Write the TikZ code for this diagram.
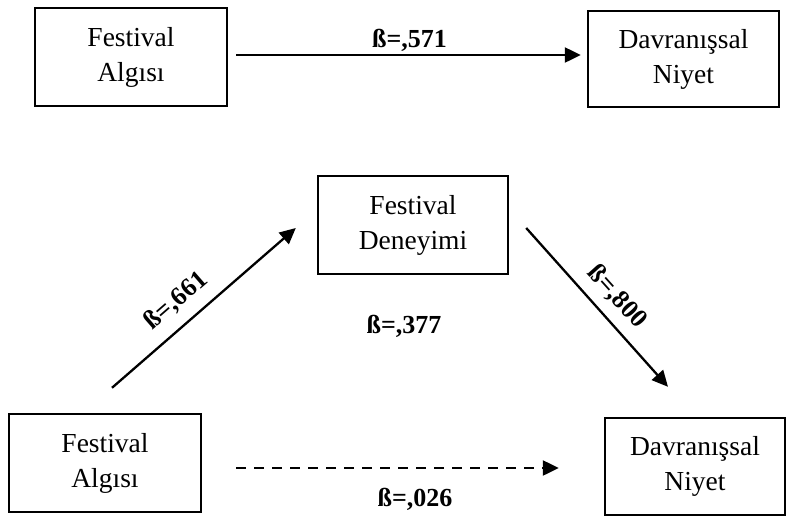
\documentclass[tikz,border=0pt]{standalone}
\usepackage{fontspec}
\setmainfont{Liberation Serif}
\usetikzlibrary{arrows.meta}
\begin{document}
\begin{tikzpicture}[x=1pt,y=-1pt,
  box/.style={draw, line width=2.4pt, align=center, inner sep=0pt,
    font=\fontsize{27.5}{35}\selectfont},
  lbl/.style={font=\fontsize{26}{30}\selectfont\bfseries, inner sep=0pt},
  conn/.style={line width=2.3pt, -{Triangle[length=16pt,width=15pt]}},
  dconn/.style={conn, dash pattern=on 10pt off 8pt},
]
\useasboundingbox[fill=white] (0,0) rectangle (788,517);
% top row
\node[box, minimum width=192pt, minimum height=98pt] (fa1) at (131,57) {Festival\\Algısı};
\node[box, minimum width=191pt, minimum height=96pt] (dn1) at (683.5,59) {Davranışsal\\Niyet};
% bottom model
\node[box, minimum width=190pt, minimum height=98pt] (fd) at (413,225) {Festival\\Deneyimi};
\node[box, minimum width=192pt, minimum height=98pt] (fa2) at (105,463) {Festival\\Algısı};
\node[box, minimum width=180pt, minimum height=97pt] (dn2) at (695,466.5) {Davranışsal\\Niyet};
% connectors
\draw[conn] ([shift={(8pt,2pt)}]fa1.east) -- ([shift={(-6pt,4pt)}]dn1.west);
\draw[conn] ([shift={(7pt,25pt)}]fa2.north) -- ([shift={(-21pt,-3pt)}]fd.west);
\draw[conn] ([shift={(17pt,-3pt)}]fd.east) -- ([shift={(-27pt,30pt)}]dn2.north);
\draw[dconn] ([shift={(34pt,-5pt)}]fa2.east) -- ([shift={(-45pt,-1.5pt)}]dn2.west);
% labels
\node[lbl, anchor=base] (l571) at (409.5,47) {ß=,571};
\node[lbl, anchor=base] (l377) at (404,333) {ß=,377};
\node[lbl, anchor=base] (l026) at (415,506) {ß=,026};
\node[lbl, rotate=41] (l661) at (176,301) {ß=,661};
\node[lbl, rotate=-48] (l800) at (617,297) {ß=,800};
\end{tikzpicture}
\end{document}
